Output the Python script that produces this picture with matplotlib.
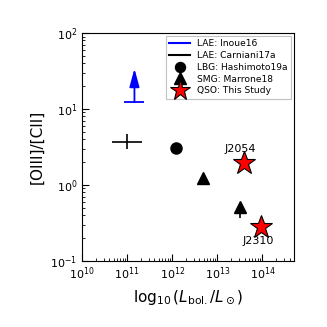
import matplotlib
matplotlib.use("Agg")
import matplotlib.pyplot as plt
import numpy as np

# Data
inoue_L = [1.45e11]
inoue_R = [12.3]
inoue_arrow_top = 34.0
carniani_L = [1.0e11]
carniani_R = [3.7]
carniani_xerr_dex = 0.33
carniani_yerr_dex = 0.1
lbg_L = [1.2e12]
lbg_R = [3.1]
smg_L = [4.7e12, 3.2e13]
smg_R = [1.24, 0.52]
smg_yerr_lo = [0.0, 0.15]
smg_yerr_hi = [0.0, 0.0]
qso_L = [3.8e13, 9.5e13]
qso_R = [1.95, 0.28]
qso_names = ["J2054", "J2310"]

fig = plt.figure(figsize=(3.27, 3.27), dpi=100)
ax = fig.add_axes([0.251, 0.202, 0.648, 0.697])
ax.set_xscale("log")
ax.set_yscale("log")
ax.set_xlim(1e10, 5e14)
ax.set_ylim(0.1, 100)

# Inoue16 lower limit
ax.plot(inoue_L, inoue_R, marker="_", color="blue", markersize=15, mew=1.3, ls="none")
ax.annotate("", xy=(inoue_L[0], inoue_arrow_top), xytext=(inoue_L[0], inoue_R[0]),
            arrowprops=dict(arrowstyle="-|>,head_length=1.1,head_width=0.3", color="blue",
                            lw=1.3, shrinkA=0, shrinkB=0))
ax.plot([], [], color="blue", lw=1.5, label="LAE: Inoue16")

# Carniani17a
x = carniani_L[0]; y = carniani_R[0]
ax.errorbar(carniani_L, carniani_R,
            xerr=[[x - x / 10**carniani_xerr_dex], [x * 10**carniani_xerr_dex - x]],
            yerr=[[y - y / 10**carniani_yerr_dex], [y * 10**carniani_yerr_dex - y]],
            fmt="none", ecolor="black", elinewidth=1.2)
ax.plot([], [], color="black", lw=1.5, label="LAE: Carniani17a")

ax.plot(lbg_L, lbg_R, "o", color="black", markersize=8, ls="none", label="LBG: Hashimoto19a")

ax.errorbar(smg_L, smg_R, yerr=[[r * l for r, l in zip(smg_R, [0, 0.3])], smg_yerr_hi],
            fmt="none", ecolor="black", elinewidth=1.2)
ax.plot(smg_L, smg_R, "^", color="black", markersize=9, ls="none", label="SMG: Marrone18")

ax.plot(qso_L, qso_R, "*", color="red", markeredgecolor="black", markeredgewidth=0.8,
        markersize=17, ls="none", label="QSO: This Study")

ax.text(qso_L[0] * 0.85, qso_R[0] * 1.32, qso_names[0], ha="center", va="bottom", fontsize=8)
ax.text(qso_L[1] * 0.85, qso_R[1] / 1.3, qso_names[1], ha="center", va="top", fontsize=8)

ax.tick_params(which="both", direction="in", top=False, right=False, labelsize=8)
ax.tick_params(which="major", length=5)
ax.tick_params(which="minor", length=2.5)
ax.set_ylabel("[OIII]/[CII]", fontsize=11)
ax.set_xlabel(r"$\log_{10}(L_{\rm bol.}/L_\odot)$", fontsize=11)

leg = ax.legend(loc="upper right", fontsize=6.6, frameon=True, fancybox=False,
                handlelength=2.2, borderpad=0.4, labelspacing=0.3, markerscale=0.9,
                borderaxespad=0.3)
leg.get_frame().set_edgecolor("0.7")
leg.get_frame().set_linewidth(0.8)

fig.savefig("out.png", dpi=100)
